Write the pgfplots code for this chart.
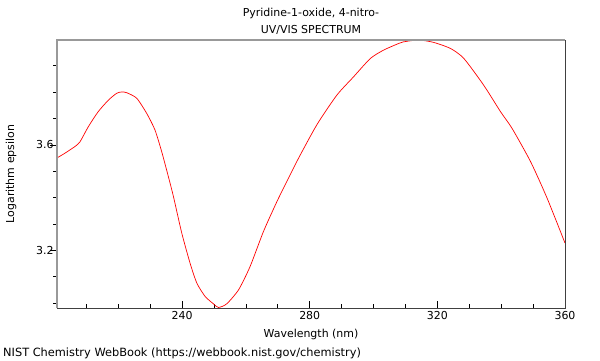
\documentclass[border=0pt]{standalone}
\usepackage{fontspec}
\setmainfont{DejaVu Sans}
\usepackage{pgfplots}
\pgfplotsset{compat=1.18}
\begin{document}
\begin{tikzpicture}[x=1bp,y=1bp]
\path[use as bounding box] (0,0) rectangle (600,360);
\begin{axis}[
  at={(57bp,52bp)}, anchor=south west,
  width=508bp, height=268bp, scale only axis,
  xmin=200.8, xmax=360, ymin=2.982, ymax=3.998,
  xtick={240,280,320,360}, ytick={3.2,3.6},
  minor xtick={210,220,230,250,260,270,290,300,310,330,340,350},
  minor ytick={3.0,3.1,3.3,3.4,3.5,3.7,3.8,3.9},
  xtick pos=bottom, ytick pos=left,
  tick align=inside,
  major tick length=7bp, minor tick length=4bp,
  tick style={black, line width=0.8bp},
  every major y tick/.append style={xshift=-7bp},
  every minor y tick/.append style={xshift=-4bp},
  yticklabel style={/pgf/number format/fixed, /pgf/number format/precision=1, /pgf/number format/fixed zerofill, font=\fontsize{11}{13}\selectfont},
  xticklabel style={font=\fontsize{11}{13}\selectfont},
  /pgf/number format/assume math mode=true,
  axis line style={draw=none},
  clip=true,
  after end axis/.code={
    \draw[line width=1.5bp, color=black!40] (rel axis cs:0,0)--(rel axis cs:0,1)--(rel axis cs:1,1);
    \draw[line width=1bp, color=black!75] (rel axis cs:0,0)--(rel axis cs:1,0)--(rel axis cs:1,1);
  },
]
\addplot[color=red, line width=0.7bp, no marks, smooth, tension=0.4] coordinates {
(200.8,3.551)(203.3,3.569)(206.4,3.594)(208.0,3.612)(210.6,3.669)(213.7,3.726)
(216.9,3.770)(219.5,3.796)(221.1,3.801)(222.7,3.798)(225.8,3.777)(228.9,3.720)
(231.5,3.657)(233.6,3.575)(235.7,3.480)(237.3,3.404)(239.9,3.266)(242.5,3.152)
(244.6,3.077)(247.2,3.026)(249.8,2.998)(251.4,2.984)(254.0,2.998)(257.7,3.051)
(261.3,3.139)(265.5,3.272)(269.7,3.385)(272.8,3.461)(276.5,3.550)
(282.3,3.678)(288.5,3.789)(293.7,3.858)(299.0,3.928)(303.2,3.960)(307.9,3.985)
(309.4,3.991)(314.1,3.998)(318.8,3.989)(324.1,3.966)(328.3,3.928)(334.5,3.827)
(339.8,3.726)(343.4,3.663)(349.2,3.537)(354.4,3.398)(360.0,3.228)
};
\end{axis}
\node[font=\fontsize{11}{13}\selectfont] at (311,347) {Pyridine-1-oxide, 4-nitro-};
\node[font=\fontsize{11}{13}\selectfont] at (311,330) {UV/VIS SPECTRUM};
\node[font=\fontsize{11}{13}\selectfont] at (311,26) {Wavelength (nm)};
\node[font=\fontsize{11}{13}\selectfont, rotate=90] at (11,186) {Logarithm epsilon};
\node[font=\fontsize{11.4}{13}\selectfont, anchor=west, inner sep=0pt] at (3,7) {NIST Chemistry WebBook (https://webbook.nist.gov/chemistry)};
\end{tikzpicture}
\end{document}
